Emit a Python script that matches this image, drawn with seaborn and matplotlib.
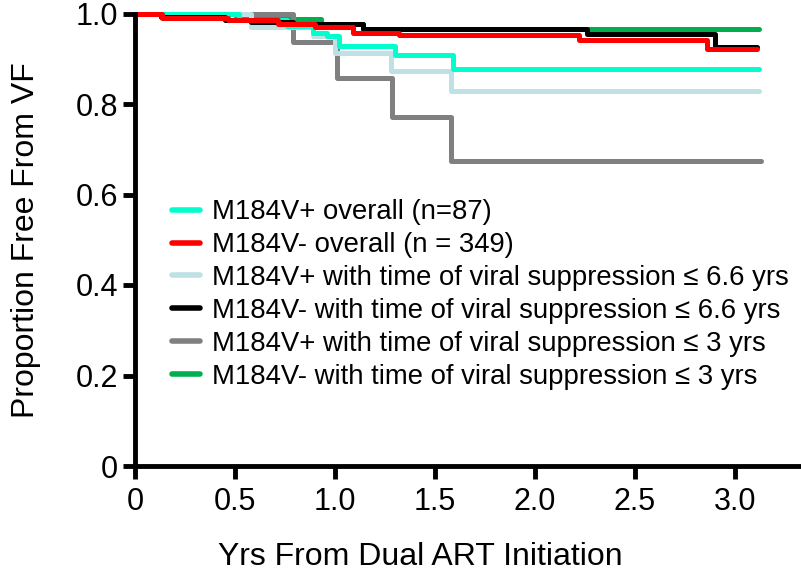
import numpy as np
import pandas as pd
import matplotlib
matplotlib.use("Agg")
import matplotlib.pyplot as plt
import seaborn as sns
from matplotlib.lines import Line2D

sns.set_theme(style="ticks")
plt.rcParams['font.family'] = ['Liberation Sans', 'DejaVu Sans']
plt.rcParams['text.color'] = 'black'
plt.rcParams['axes.labelcolor'] = 'black'
plt.rcParams['xtick.color'] = 'black'
plt.rcParams['ytick.color'] = 'black'

labels = [
    "M184V+ overall (n=87)",
    "M184V- overall (n = 349)",
    "M184V+ with time of viral suppression \u2264 6.6 yrs",
    "M184V- with time of viral suppression \u2264 6.6 yrs",
    "M184V+ with time of viral suppression \u2264 3 yrs",
    "M184V- with time of viral suppression \u2264 3 yrs",
]
colors = ["#00FFCC", "#FF0000", "#BEE1E5", "#000000", "#808080", "#00AD4F"]

cyan_t = [0, 0.52, 0.76, 0.89, 0.96, 1.02, 1.30, 1.59, 3.12]
cyan_s = [1.0, 0.985, 0.972, 0.958, 0.950, 0.929, 0.909, 0.878, 0.878]

red_t = [0, 0.135, 0.465, 0.715, 0.90, 1.09, 1.32, 2.22, 2.86, 3.11]
red_s = [1.0, 0.990, 0.986, 0.976, 0.970, 0.958, 0.953, 0.942, 0.921, 0.921]

lblue_t = [0, 0.58, 0.89, 1.00, 1.28, 1.58, 3.12]
lblue_s = [1.0, 0.970, 0.950, 0.912, 0.874, 0.828, 0.828]

black_t = [0, 0.13, 0.45, 0.58, 0.79, 1.14, 2.26, 2.90, 3.11]
black_s = [1.0, 0.993, 0.985, 0.981, 0.977, 0.965, 0.955, 0.926, 0.926]

gray_t = [0, 0.79, 1.01, 1.285, 1.58, 3.13]
gray_s = [1.0, 0.936, 0.858, 0.772, 0.673, 0.673]

green_t = [0, 0.50, 0.76, 0.93, 1.14, 3.12]
green_s = [1.0, 0.997, 0.988, 0.977, 0.966, 0.966]

x_ticks = [0, 0.5, 1.0, 1.5, 2.0, 2.5, 3.0]
x_ticklabels = ["0", "0.5", "1.0", "1.5", "2.0", "2.5", "3.0"]
y_ticks = [0, 0.2, 0.4, 0.6, 0.8, 1.0]
y_ticklabels = ["0", "0.2", "0.4", "0.6", "0.8", "1.0"]

series = [(cyan_t, cyan_s), (red_t, red_s), (lblue_t, lblue_s),
          (black_t, black_s), (gray_t, gray_s), (green_t, green_s)]
frames = []
for lab, (t, s) in zip(labels, series):
    frames.append(pd.DataFrame({"t": t, "s": s, "group": lab}))
df = pd.concat(frames, ignore_index=True)

fig = plt.figure(figsize=(8.01, 5.77), dpi=100)
ax = fig.add_axes([135 / 801, 1 - 466 / 577, (801 - 135) / 801, (466 - 13.5) / 577])

zorders = {labels[5]: 3, labels[4]: 4, labels[2]: 5, labels[0]: 6, labels[3]: 7, labels[1]: 8}
for lab, col in zip(labels, colors):
    sub = df[df["group"] == lab]
    sns.lineplot(data=sub, x="t", y="s", ax=ax, color=col, lw=3.6,
                 drawstyle="steps-post", estimator=None, sort=False,
                 legend=False, zorder=zorders[lab], clip_on=False)

ax.set_xlim(0, 3.33)
ax.set_ylim(0, 1.0)
ax.set_xticks(x_ticks)
ax.set_xticklabels(x_ticklabels)
ax.set_yticks(y_ticks)
ax.set_yticklabels(y_ticklabels)
for sp in ["top", "right"]:
    ax.spines[sp].set_visible(False)
for sp in ["left", "bottom"]:
    ax.spines[sp].set_linewidth(3.5)
    ax.spines[sp].set_color("black")
    ax.spines[sp].set_zorder(10)
ax.tick_params(axis="both", length=9, width=3.5, color="black", labelsize=22, pad=3)
ax.tick_params(axis="x", pad=6)
ax.set_xlabel("Yrs From Dual ART Initiation", fontsize=23)
ax.xaxis.set_label_coords((420 - 135) / 666, (466 - 557) / 452.5)
ax.xaxis.label.set_va("center")
ax.set_ylabel("Proportion Free From VF", fontsize=23)
ax.yaxis.set_label_coords((26 - 135) / 666, 0.5)
ax.yaxis.label.set_va("center")

handles = [Line2D([0], [0], color=c, lw=4) for c in colors]
ax.legend(handles, labels, loc="center left", bbox_to_anchor=((172 - 135) / 666, (466 - 294.5) / 452.5),
          frameon=False, fontsize=19.8, handlelength=1.0, handletextpad=0.45,
          labelspacing=0.25, borderaxespad=0, borderpad=0)

fig.savefig("out.png", dpi=100)
